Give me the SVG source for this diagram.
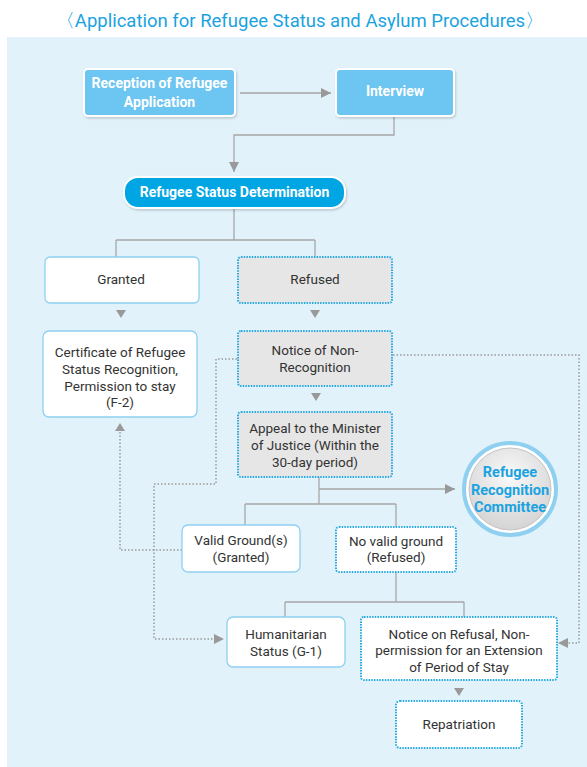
<svg xmlns="http://www.w3.org/2000/svg" width="587" height="767" viewBox="0 0 587 767">
<defs>
<filter id="sh" x="-10%" y="-10%" width="130%" height="140%"><feDropShadow dx="1" dy="1.5" stdDeviation="1.2" flood-color="#000" flood-opacity="0.18"/></filter>
<radialGradient id="cg" cx="50%" cy="35%" r="65%"><stop offset="0" stop-color="#fafafa"/><stop offset="1" stop-color="#d4d4d4"/></radialGradient>
<marker id="ah" viewBox="0 0 10 10" refX="10" refY="5" markerWidth="10" markerHeight="10" markerUnits="userSpaceOnUse" orient="auto"><path d="M0,0 L10,5 L0,10 z" fill="#999"/></marker>
</defs>
<style>
text{font-family:Roboto,"Liberation Sans",sans-serif;font-size:13.5px;fill:#333;text-anchor:middle}
.w{fill:#fff;font-weight:bold;font-size:14px}
.title{fill:#1aa3e0;font-size:18.5px}
.cm{fill:#1aa3e0;font-weight:bold;font-size:14.5px}
.blue{fill:#6dc5f1;stroke:#fff;stroke-width:2}
.sol{fill:#fff;stroke:#8fd0f0;stroke-width:1.3}
.dotg{fill:#e6e6e6;stroke:#29abe2;stroke-width:2;stroke-dasharray:1.5 1.2}
.dotw{fill:#fff;stroke:#29abe2;stroke-width:2;stroke-dasharray:1.5 1.2}
.ln{fill:none;stroke:#a6a6a6;stroke-width:1.3}
.dl{fill:none;stroke:#999;stroke-width:1.5;stroke-dasharray:1.5 2}
.tri{fill:#999}
</style>
<rect x="0" y="0" width="587" height="767" fill="#fff"/>
<rect x="7" y="37" width="580" height="730" fill="#e2f2fb"/>
<text class="title" x="300" y="27">〈Application for Refugee Status and Asylum Procedures〉</text>

<g id="connectors">
<path class="ln" d="M240,93 H331" marker-end="url(#ah)"/>
<path class="ln" d="M394,116 V135 H234 V172" marker-end="url(#ah)"/>
<path class="ln" d="M234,208 V240 M116,240 H315 M116,240 V257 M315,240 V257"/>
<polygon class="tri" points="116,310 126,310 121,318"/>
<polygon class="tri" points="310,310 320,310 315,318"/>
<polygon class="tri" points="311,393 321,393 316,401"/>
<path class="ln" d="M319,477 V504 M319,489 H455" marker-end="url(#ah)"/>
<path class="ln" d="M245,504 H396 M245,504 V525 M396,504 V527"/>
<path class="ln" d="M396,572 V602 M285,602 H464 M285,602 V617 M464,602 V617"/>
<polygon class="tri" points="454,688 464,688 459,696"/>
<path class="dl" d="M182,550 H120 V432"/>
<polygon class="tri" points="115,431 125,431 120,423"/>
<path class="dl" d="M237,359 H216 V484 H154 V639 H215"/>
<polygon class="tri" points="214,634 224,639 214,644"/>
<path class="dl" d="M393,355 H579 V643 H567"/>
<polygon class="tri" points="568,638 558,643 568,648"/>
</g>

<g id="reception"><rect class="blue" x="84" y="69" width="151" height="47" rx="4" filter="url(#sh)"/><text class="w" x="159.5" y="88">Reception of Refugee</text><text class="w" x="159.5" y="107">Application</text></g>
<g id="interview"><rect class="blue" x="336" y="69" width="118" height="47" rx="4" filter="url(#sh)"/><text class="w" x="395" y="96">Interview</text></g>
<g id="determination"><rect x="124" y="177" width="221" height="31" rx="14" fill="#00a5e3" stroke="#fff" stroke-width="2" filter="url(#sh)"/><text class="w" x="234.5" y="197">Refugee Status Determination</text></g>
<g id="granted"><rect class="sol" x="45" y="257" width="154" height="46" rx="5"/><text x="121" y="284">Granted</text></g>
<g id="refused"><rect class="dotg" x="238" y="257" width="154" height="46" rx="3"/><text x="315" y="284">Refused</text></g>
<g id="certificate"><rect class="sol" x="43" y="331" width="154" height="86" rx="6"/><text x="120" y="357">Certificate of Refugee</text><text x="120" y="374">Status Recognition,</text><text x="120" y="391">Permission to stay</text><text x="120" y="407">(F-2)</text></g>
<g id="notice"><rect class="dotg" x="238" y="331" width="154" height="55" rx="3"/><text x="315" y="355">Notice of Non-</text><text x="315" y="372">Recognition</text></g>
<g id="appeal"><rect class="dotg" x="238" y="412" width="154" height="65" rx="3"/><text x="315" y="433">Appeal to the Minister</text><text x="315" y="450">of Justice (Within the</text><text x="315" y="467">30-day period)</text></g>
<g id="committee"><circle cx="510" cy="489" r="46" fill="#fff" stroke="#8fd0f0" stroke-width="4"/><circle cx="510" cy="489" r="41" fill="url(#cg)" stroke="#c4c4c4" stroke-width="1"/><text class="cm" x="510" y="477">Refugee</text><text class="cm" x="510" y="495">Recognition</text><text class="cm" x="510" y="512">Committee</text></g>
<g id="valid"><rect class="sol" x="182" y="525" width="118" height="47" rx="6"/><text x="241" y="545">Valid Ground(s)</text><text x="241" y="562">(Granted)</text></g>
<g id="novalid"><rect class="dotw" x="336" y="527" width="120" height="45" rx="3"/><text x="396" y="546">No valid ground</text><text x="396" y="562">(Refused)</text></g>
<g id="humanitarian"><rect class="sol" x="227" y="617" width="118" height="50" rx="6"/><text x="286" y="639">Humanitarian</text><text x="286" y="656">Status (G-1)</text></g>
<g id="refusalnotice"><rect class="dotw" x="361" y="617" width="196" height="63" rx="3"/><text x="459" y="639">Notice on Refusal, Non-</text><text x="459" y="655">permission for an Extension</text><text x="459" y="672">of Period of Stay</text></g>
<g id="repatriation"><rect class="dotw" x="396" y="701" width="126" height="47" rx="4"/><text x="459" y="729">Repatriation</text></g>
</svg>
